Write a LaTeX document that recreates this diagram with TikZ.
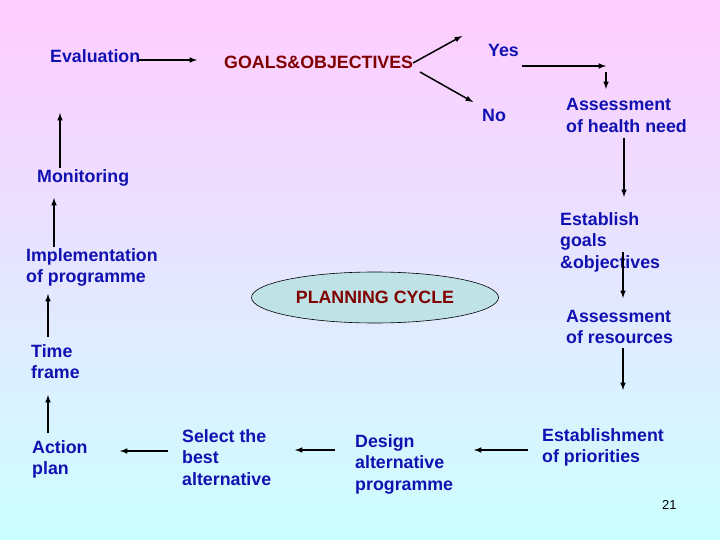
\documentclass[tikz,border=0pt]{standalone}
\usepackage{fontspec}
\setmainfont{Liberation Sans}
\usetikzlibrary{shapes.geometric}
\definecolor{txtblue}{RGB}{17,17,178}
\definecolor{txtred}{RGB}{128,0,0}
\definecolor{toppink}{RGB}{255,204,255}
\definecolor{botcyan}{RGB}{204,255,255}
\definecolor{ovalfill}{RGB}{190,226,230}
\begin{document}
\begin{tikzpicture}[x=1pt, y=-1pt,
    lbl/.style={anchor=base west, inner sep=0pt, align=left, text=txtblue,
      font=\fontsize{17.8}{21.5}\selectfont\bfseries},
    arr/.style={->, >=latex, line width=1.5pt}]
\shade[top color=toppink, bottom color=botcyan] (0,0) rectangle (720,540);
\useasboundingbox (0,0) rectangle (720,540);

% top row (base = baseline of the last line)
\node[lbl] (eval) at (50,63) {Evaluation};
\node[lbl, text=txtred] (goals) at (224,69) {GOALS\&OBJECTIVES};
\node[lbl] (yes) at (488,57) {Yes};
\node[lbl] (no) at (482,122) {No};

% right column
\node[lbl] (health) at (566,132.5) {Assessment\\of health need};
\node[lbl] (estgoals) at (560,268) {Establish\\goals\\\&objectives};
\node[lbl] (resources) at (566,343.5) {Assessment\\of resources};

% bottom row
\node[lbl] (priorities) at (542,462.5) {Establishment\\of priorities};
\node[lbl] (design) at (355,490) {Design\\alternative\\programme};
\node[lbl] (select) at (182,485) {Select the\\best\\alternative};
\node[lbl] (action) at (32,474.5) {Action\\plan};

% left column
\node[lbl] (time) at (31,378.5) {Time\\frame};
\node[lbl] (impl) at (26,282.5) {Implementation\\of programme};
\node[lbl] (monitor) at (37,183) {Monitoring};

% centre
\node[ellipse, draw, line width=0.6pt, fill=ovalfill, minimum width=247pt,
  minimum height=51pt, inner sep=0pt, text=txtred,
  font=\fontsize{17.8}{21.5}\selectfont\bfseries] (cycle) at (375,297.5) {PLANNING CYCLE};

\node[anchor=base west, inner sep=0pt, font=\fontsize{13}{15}\selectfont] (page) at (662,509) {21};

% arrow ends
\coordinate (e1) at (138,60);   \coordinate (e2) at (197,60);
\coordinate (g1) at (413,63);   \coordinate (g2) at (462,36);
\coordinate (g3) at (420,72);   \coordinate (g4) at (473,102);
\coordinate (y1) at (522,66);   \coordinate (y2) at (606,66);
\coordinate (y3) at (606,72);   \coordinate (y4) at (606,89);
\coordinate (h1) at (624,138);  \coordinate (h2) at (624,197);
\coordinate (s1) at (623,252);  \coordinate (s2) at (623,298);
\coordinate (r1) at (623,348);  \coordinate (r2) at (623,390);
\coordinate (p1) at (528,450);  \coordinate (p2) at (474,450);
\coordinate (d1) at (335,450);  \coordinate (d2) at (295,450);
\coordinate (b1) at (168,451);  \coordinate (b2) at (120,451);
\coordinate (a1) at (48,433);   \coordinate (a2) at (48,395);
\coordinate (t1) at (48,337);   \coordinate (t2) at (48,294);
\coordinate (i1) at (54,247);   \coordinate (i2) at (54,198);
\coordinate (m1) at (60,168);   \coordinate (m2) at (60,113);

\foreach \a/\b in {e1/e2, g1/g2, g3/g4, y1/y2, y3/y4, h1/h2, s1/s2, r1/r2,
    p1/p2, d1/d2, b1/b2, a1/a2, t1/t2, i1/i2, m1/m2}
  \draw[arr] (\a) -- (\b);
\end{tikzpicture}
\end{document}
